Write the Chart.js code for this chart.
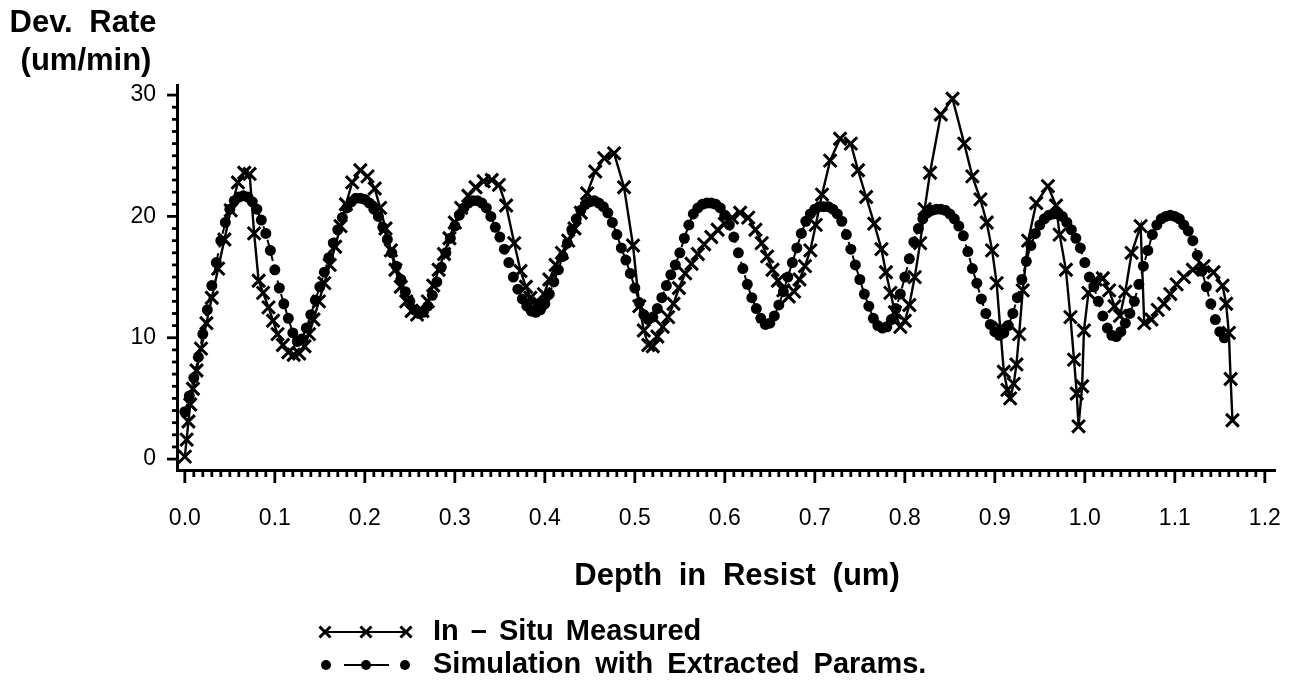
<!DOCTYPE html>
<html><head><meta charset="utf-8">
<script src="https://cdn.jsdelivr.net/npm/chart.js@4.4.1/dist/chart.umd.min.js"></script>
<style>html,body{margin:0;padding:0;background:#fff;}canvas{display:block;}</style>
</head><body>
<canvas id="c" width="1316" height="691"></canvas>
<script>
// ---- tick labels ----
const xTickValues = [0,0.1,0.2,0.3,0.4,0.5,0.6,0.7,0.8,0.9,1.0,1.1,1.2];
const xTickLabels = ['0.0','0.1','0.2','0.3','0.4','0.5','0.6','0.7','0.8','0.9','1.0','1.1','1.2'];
const yTickValues = [0,10,20,30];
const yTickLabels = ['0','10','20','30'];

// ---- texts ----
const yTitleLines = ['Dev. Rate','(um/min)'];
const xTitle = 'Depth in Resist (um)';
const seriesNames = ['In \u2013 Situ Measured','Simulation with Extracted Params.'];

// ---- In-Situ measured series (depth um, rate um/min) ----
const measDepth = [
0.000,0.002,0.004,0.006,0.009,0.013,0.018,0.024,0.030,0.037,0.044,0.051,0.059,0.066,0.072,0.077,0.082,0.087,0.093,0.098,
0.103,0.109,0.115,0.121,0.127,0.133,0.138,0.143,0.149,0.155,0.161,0.167,0.173,0.179,0.186,0.195,0.203,0.211,0.217,0.223,
0.229,0.234,0.240,0.246,0.252,0.258,0.264,0.270,0.276,0.282,0.288,0.294,0.300,0.307,0.315,0.323,0.332,0.341,0.349,0.357,
0.366,0.373,0.379,0.384,0.389,0.394,0.399,0.405,0.412,0.419,0.426,0.433,0.440,0.447,0.456,0.466,0.477,0.488,0.498,0.505,
0.510,0.515,0.520,0.525,0.531,0.537,0.543,0.549,0.556,0.563,0.570,0.577,0.585,0.592,0.600,0.608,0.617,0.626,0.634,0.641,
0.647,0.653,0.659,0.665,0.671,0.677,0.683,0.689,0.695,0.701,0.708,0.717,0.728,0.740,0.748,0.757,0.766,0.774,0.779,0.784,
0.789,0.795,0.800,0.805,0.811,0.817,0.822,0.828,0.840,0.853,0.866,0.875,0.884,0.891,0.897,0.902,0.906,0.910,0.914,0.917,
0.921,0.924,0.927,0.931,0.937,0.946,0.959,0.968,0.972,0.979,0.984,0.988,0.991,0.993,0.997,0.999,1.004,1.012,1.020,1.027,
1.033,1.039,1.045,1.052,1.062,1.066,1.074,1.081,1.088,1.095,1.102,1.110,1.120,1.132,1.143,1.153,1.157,1.160,1.162,1.164
];
const measRate = [
0.2,1.6,3.1,4.5,5.8,7.3,9.1,11.2,13.3,15.7,18.1,20.5,22.8,23.6,23.5,18.6,14.7,13.7,12.5,11.4,
10.3,9.4,8.8,8.6,8.7,9.3,10.3,11.5,13.0,14.5,16.0,17.5,19.2,21.0,22.8,23.8,23.3,22.3,20.7,19.0,
17.2,15.6,14.2,13.0,12.2,11.9,12.2,13.0,14.3,15.6,16.9,18.2,19.5,20.7,21.7,22.4,22.9,23.0,22.6,20.9,
17.8,15.5,14.2,13.3,12.7,12.8,13.6,14.8,16.0,17.0,18.0,19.0,20.3,21.9,23.7,24.8,25.2,22.4,17.6,12.6,
10.6,9.4,9.3,10.1,10.9,11.7,12.8,14.1,15.3,16.1,16.9,17.7,18.3,18.9,19.4,19.9,20.3,19.9,18.9,17.8,
16.7,15.6,14.7,13.9,13.4,13.8,14.8,15.9,17.2,19.3,21.8,24.6,26.4,26.0,23.8,21.6,19.4,17.3,15.4,13.7,
12.1,10.9,11.4,12.7,15.0,17.8,20.6,23.6,28.4,29.7,26.0,23.3,21.4,19.5,17.2,14.5,10.8,7.2,5.7,5.0,
6.2,7.8,10.3,13.9,18.0,21.1,22.5,20.9,18.5,15.6,11.7,8.2,5.4,2.7,6.0,10.6,13.7,14.8,14.9,13.9,
12.6,11.8,13.8,17.0,19.2,11.2,11.5,12.3,12.8,13.6,14.4,15.0,15.6,15.9,15.4,14.3,12.8,10.4,6.6,3.2
];

// ---- Simulation series (depth um, rate um/min) ----
const simDepth = [
0.000,0.005,0.010,0.015,0.020,0.025,0.030,0.035,0.040,0.045,
0.050,0.055,0.060,0.065,0.070,0.075,0.080,0.085,0.090,0.095,
0.100,0.105,0.110,0.115,0.120,0.125,0.130,0.135,0.140,0.145,
0.150,0.155,0.160,0.165,0.170,0.175,0.180,0.185,0.190,0.195,
0.200,0.205,0.210,0.215,0.220,0.225,0.230,0.235,0.240,0.245,
0.250,0.255,0.260,0.265,0.270,0.275,0.280,0.285,0.290,0.295,
0.300,0.305,0.310,0.315,0.320,0.325,0.330,0.335,0.340,0.345,
0.350,0.355,0.360,0.365,0.370,0.375,0.380,0.385,0.390,0.395,
0.400,0.405,0.410,0.415,0.420,0.425,0.430,0.435,0.440,0.445,
0.450,0.455,0.460,0.465,0.470,0.475,0.480,0.485,0.490,0.495,
0.500,0.505,0.510,0.515,0.520,0.525,0.530,0.535,0.540,0.545,
0.550,0.555,0.560,0.565,0.570,0.575,0.580,0.585,0.590,0.595,
0.600,0.605,0.610,0.615,0.620,0.625,0.630,0.635,0.640,0.645,
0.650,0.655,0.660,0.665,0.670,0.675,0.680,0.685,0.690,0.695,
0.700,0.705,0.710,0.715,0.720,0.725,0.730,0.735,0.740,0.745,
0.750,0.755,0.760,0.765,0.770,0.775,0.780,0.785,0.790,0.795,
0.800,0.805,0.810,0.815,0.820,0.825,0.830,0.835,0.840,0.845,
0.850,0.855,0.860,0.865,0.870,0.875,0.880,0.885,0.890,0.895,
0.900,0.905,0.910,0.915,0.920,0.925,0.930,0.935,0.940,0.945,
0.950,0.955,0.960,0.965,0.970,0.975,0.980,0.985,0.990,0.995,
1.000,1.005,1.010,1.015,1.020,1.025,1.030,1.035,1.040,1.045,
1.050,1.055,1.060,1.065,1.070,1.075,1.080,1.085,1.090,1.095,
1.100,1.105,1.110,1.115,1.120,1.125,1.130,1.135,1.140,1.145,
1.150,1.155
];
const simRate = [
3.9,5.2,6.7,8.4,10.3,12.3,14.3,16.2,18.0,19.5,
20.6,21.3,21.6,21.7,21.6,21.2,20.6,19.7,18.6,17.2,
15.6,14.1,12.8,11.6,10.4,9.7,9.9,10.8,11.9,13.1,
14.2,15.4,16.6,17.8,18.9,19.9,20.7,21.2,21.5,21.5,
21.4,21.1,20.6,20.0,19.1,18.1,17.0,15.9,14.8,13.8,
13.0,12.3,12.0,12.1,12.6,13.5,14.6,15.8,17.0,18.2,
19.2,20.1,20.7,21.1,21.3,21.3,21.1,20.7,20.0,19.1,
18.3,17.3,16.2,15.0,14.0,13.2,12.6,12.2,12.1,12.3,
12.8,13.6,14.6,15.6,16.7,17.8,18.9,19.8,20.5,21.0,
21.2,21.3,21.1,20.8,20.3,19.5,18.5,17.4,16.4,15.3,
14.1,12.9,11.9,11.5,11.7,12.4,13.3,14.3,15.2,16.0,
17.0,18.2,19.3,20.2,20.7,21.0,21.1,21.1,21.0,20.7,
20.1,19.3,18.3,17.0,15.7,14.4,13.3,12.4,11.6,11.1,
11.2,11.8,12.7,13.8,15.0,16.2,17.4,18.6,19.6,20.2,
20.6,20.8,20.8,20.8,20.6,20.2,19.6,18.5,17.3,16.0,
14.8,13.6,12.6,11.6,11.0,10.8,10.9,11.5,12.4,13.6,
15.0,16.5,17.9,19.0,19.8,20.3,20.5,20.6,20.6,20.5,
20.2,19.8,19.2,18.4,17.1,15.7,14.5,13.2,12.0,11.1,
10.5,10.2,10.4,11.0,12.0,13.3,14.8,16.3,17.6,18.6,
19.3,19.8,20.1,20.2,20.2,20.0,19.5,18.9,18.2,17.4,
16.2,15.0,14.2,13.0,11.8,10.8,10.2,10.1,10.5,11.2,
12.0,13.0,14.4,15.9,17.2,18.5,19.3,19.8,20.0,20.1,
20.0,19.8,19.3,18.8,18.0,16.8,15.5,14.2,12.8,11.5,
10.5,10.0
];

const FONT = '"Liberation Sans", Arial, Helvetica, sans-serif';

function setSpacing(ctx, ls, ws){
  if ('letterSpacing' in ctx) ctx.letterSpacing = ls || '0px';
  if ('wordSpacing' in ctx) ctx.wordSpacing = ws || '0px';
}
function drawText(ctx, s, x, y, font, align, ls, ws){
  ctx.font = font; ctx.textAlign = align; ctx.textBaseline = 'middle';
  setSpacing(ctx, ls, ws);
  ctx.fillStyle = '#000';
  ctx.fillText(s, x, y);
}
function drawCross(ctx, cx, cy, r){
  ctx.beginPath();
  ctx.moveTo(cx-r, cy-r); ctx.lineTo(cx+r, cy+r);
  ctx.moveTo(cx-r, cy+r); ctx.lineTo(cx+r, cy-r);
  ctx.stroke();
}
function drawDot(ctx, cx, cy, r){
  ctx.beginPath(); ctx.arc(cx, cy, r, 0, Math.PI*2); ctx.fill();
}

const decor = {
  id: 'decor',
  afterDraw(chart){
    const ctx = chart.ctx, a = chart.chartArea, xs = chart.scales.x, ys = chart.scales.y;
    ctx.save();
    ctx.strokeStyle = '#000'; ctx.fillStyle = '#000'; ctx.lineWidth = 2.8; ctx.lineCap = 'butt';
    // x-axis ticks: minor every 0.01, major every 0.1
    for (let i = 0; i <= 120; i++){
      const px = xs.getPixelForValue(i/100);
      const len = (i % 10 === 0) ? 13 : 7;
      ctx.beginPath(); ctx.moveTo(px, a.bottom); ctx.lineTo(px, a.bottom + len); ctx.stroke();
    }
    // y-axis ticks: minor every 1, major every 10
    for (let i = 0; i <= 30; i++){
      const py = ys.getPixelForValue(i);
      const len = (i % 10 === 0) ? 10 : 5;
      ctx.beginPath(); ctx.moveTo(a.left - len, py); ctx.lineTo(a.left, py); ctx.stroke();
    }
    // y title (top-left)
    drawText(ctx, yTitleLines[0], 83, 23, 'bold 31px ' + FONT, 'center', '0px', '8px');
    drawText(ctx, yTitleLines[1], 86, 61, 'bold 31px ' + FONT, 'center', '0px', '0px');
    // x title
    drawText(ctx, xTitle, 737, 576, 'bold 31px ' + FONT, 'center', '0px', '8px');
    // legend
    const ly1 = 632, ly2 = 665;
    ctx.lineWidth = 2.2;
    ctx.beginPath(); ctx.moveTo(324, ly1); ctx.lineTo(407, ly1); ctx.stroke();
    ctx.lineWidth = 3;
    [325, 366, 406].forEach(cx => drawCross(ctx, cx, ly1, 5.5));
    ctx.lineWidth = 2.2;
    ctx.beginPath(); ctx.moveTo(344, ly2); ctx.lineTo(362, ly2); ctx.moveTo(370, ly2); ctx.lineTo(389, ly2); ctx.stroke();
    [326, 366, 405].forEach(cx => drawDot(ctx, cx, ly2, 5));
    drawText(ctx, seriesNames[0], 433, ly1, 'bold 29px ' + FONT, 'left', '0px', '4px');
    drawText(ctx, seriesNames[1], 433, ly2, 'bold 29px ' + FONT, 'left', '0px', '6px');
    ctx.restore();
  }
};

const measData = measDepth.map((x, i) => ({x: x, y: measRate[i]}));
const simData = simDepth.map((x, i) => ({x: x, y: simRate[i]}));

new Chart(document.getElementById('c').getContext('2d'), {
  type: 'line',
  data: {
    datasets: [
      { label: seriesNames[0], data: measData, borderColor: '#000', borderWidth: 2.4,
        pointStyle: 'crossRot', pointRadius: 9, pointBorderWidth: 3,
        pointBorderColor: '#000', pointBackgroundColor: '#000', tension: 0, fill: false, order: 0 },
      { label: seriesNames[1], data: simData, borderColor: '#000', borderWidth: 2, borderDash: [8, 6],
        pointStyle: 'circle', pointRadius: 5.5, pointBorderWidth: 0,
        pointBackgroundColor: '#000', pointBorderColor: '#000', tension: 0, fill: false, order: 1 }
    ]
  },
  options: {
    responsive: false, animation: false, devicePixelRatio: 1,
    layout: { padding: { top: 85, right: 19, left: 0, bottom: 0 } },
    plugins: { legend: { display: false }, tooltip: { enabled: false }, title: { display: false } },
    scales: {
      x: {
        type: 'linear', min: -0.0087, max: 1.2113,
        afterBuildTicks: s => { s.ticks = xTickValues.map(v => ({ value: v })); },
        ticks: { callback: (v, i) => xTickLabels[i], font: { family: FONT, size: 23 }, color: '#000',
                 padding: 35, maxRotation: 0, minRotation: 0, autoSkip: false },
        grid: { display: false, drawTicks: false },
        border: { display: true, color: '#000', width: 3 },
        afterFit: s => { s.height = 221; }
      },
      y: {
        type: 'linear', min: -0.9, max: 30.83,
        afterBuildTicks: s => { s.ticks = yTickValues.map(v => ({ value: v })); },
        ticks: { callback: (v, i) => yTickLabels[i], font: { family: FONT, size: 23 }, color: '#000',
                 padding: 21, autoSkip: false },
        grid: { display: false, drawTicks: false },
        border: { display: true, color: '#000', width: 3 },
        afterFit: s => { s.width = 177; }
      }
    }
  },
  plugins: [decor]
});
</script>
</body></html>
